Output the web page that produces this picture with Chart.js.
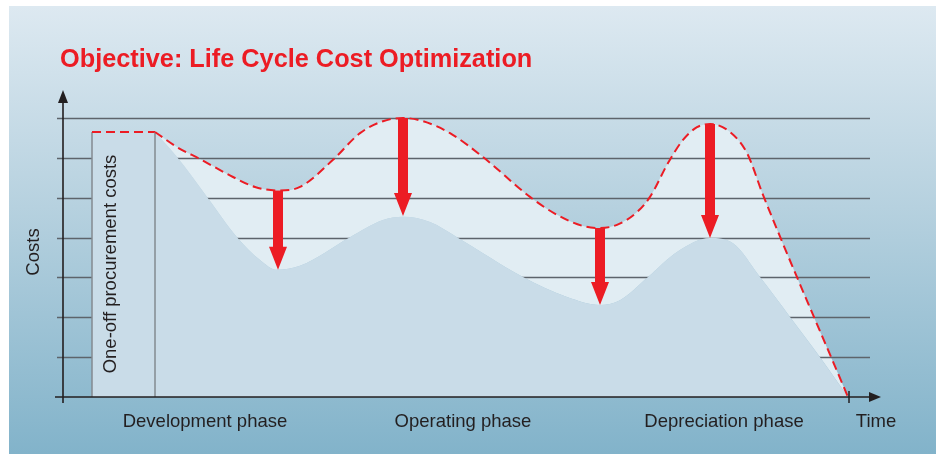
<!DOCTYPE html>
<html>
<head>
<meta charset="utf-8">
<script src="https://cdn.jsdelivr.net/npm/chart.js@4"></script>
<style>
  html, body { margin: 0; padding: 0; background: #ffffff; }
  #wrap { width: 936px; height: 454px; }
</style>
</head>
<body>
<div id="wrap"><canvas id="c" width="936" height="454"></canvas></div>
<script>
// ---- data ----
const chartTitle = 'Objective: Life Cycle Cost Optimization';
const yAxisTitle = 'Costs';
const xAxisTitle = 'Time';
const procurementLabel = 'One-off procurement costs';

// running costs before optimization (dashed red)
const beforeTime = [92, 114, 137, 170, 192, 215, 237, 270, 297, 320, 340, 360, 387, 420, 467, 494, 520, 537, 554, 574, 587, 605, 620, 634, 647, 667, 684, 700, 785];
const beforeCost = [6.65, 6.27, 5.97, 5.52, 5.27, 5.18, 5.27, 5.95, 6.62, 6.92, 7.00, 6.92, 6.62, 6.02, 5.02, 4.57, 4.29, 4.24, 4.32, 4.64, 5.02, 5.87, 6.45, 6.77, 6.85, 6.65, 6.12, 5.07, 0];

// running costs after optimization
const afterTime = [92, 114, 144, 174, 197, 214, 237, 287, 320, 340, 367, 394, 460, 504, 537, 557, 585, 614, 647, 670, 697, 727, 757, 785];
const afterCost = [6.65, 6.02, 5.02, 4.01, 3.44, 3.19, 3.29, 4.01, 4.44, 4.52, 4.39, 4.01, 3.01, 2.51, 2.31, 2.43, 3.01, 3.64, 3.99, 3.86, 3.01, 2.01, 1.00, 0];

// one-off procurement block
const procurementTime = [29, 29, 92, 92];
const procurementCost = [0, 6.65, 6.65, 0];

// reduction arrows
const arrowTime = [215, 340, 537, 647];
const arrowFrom = [5.18, 7.00, 4.24, 6.85];
const arrowTo   = [3.19, 4.54, 2.31, 3.99];

// grid levels and phase labels
const gridLevels = [1, 2, 3, 4, 5, 6, 7];
const phaseLabels = ['Development phase', 'Operating phase', 'Depreciation phase'];
const phaseTime = [142, 400, 661];
const timeEnd = 785;

const pts = (xs, ys) => xs.map((x, i) => ({ x: x, y: ys[i] }));

const RED = '#ec1c24';
const GREY = '#838a90';
const FONT = '"Liberation Sans", Arial, Helvetica, sans-serif';

const decorPlugin = {
  id: 'decor',
  beforeDraw(chart) {
    const ctx = chart.ctx;
    ctx.save();
    ctx.fillStyle = '#ffffff';
    ctx.fillRect(0, 0, chart.width, chart.height);
    const g = ctx.createLinearGradient(0, 6, 0, chart.height);
    g.addColorStop(0, '#dde9f1');
    g.addColorStop(0.45, '#b6d1df');
    g.addColorStop(1, '#82b3ca');
    ctx.fillStyle = g;
    ctx.fillRect(9, 6, chart.width - 9, chart.height - 6);
    ctx.restore();
  },
  afterDatasetDraw(chart, args) {
    if (args.index !== 3) return;
    const ctx = chart.ctx, xs = chart.scales.x, ys = chart.scales.y;
    ctx.save();
    ctx.strokeStyle = '#5d646b';
    ctx.lineWidth = 1.3;
    const x0 = xs.getPixelForValue(0) - 6, x1 = xs.getPixelForValue(807);
    gridLevels.forEach(v => {
      const y = Math.round(ys.getPixelForValue(v)) + 0.5;
      ctx.beginPath(); ctx.moveTo(x0, y); ctx.lineTo(x1, y); ctx.stroke();
    });
    ctx.restore();
  },
  afterDatasetsDraw(chart) {
    const ctx = chart.ctx, xs = chart.scales.x, ys = chart.scales.y;
    ctx.save();
    // arrows
    ctx.fillStyle = RED;
    arrowTime.forEach((t, i) => {
      const x = xs.getPixelForValue(t);
      const yA = ys.getPixelForValue(arrowFrom[i]);
      const yB = ys.getPixelForValue(arrowTo[i]);
      const hl = 23, hw = 9, sw = 5;
      ctx.beginPath();
      ctx.moveTo(x - sw, yA);
      ctx.lineTo(x + sw, yA);
      ctx.lineTo(x + sw, yB - hl);
      ctx.lineTo(x + hw, yB - hl);
      ctx.lineTo(x, yB);
      ctx.lineTo(x - hw, yB - hl);
      ctx.lineTo(x - sw, yB - hl);
      ctx.closePath();
      ctx.fill();
    });
    // axes
    const ax = xs.getPixelForValue(0);
    const ay = ys.getPixelForValue(0);
    ctx.strokeStyle = '#231f20';
    ctx.fillStyle = '#231f20';
    ctx.lineWidth = 1.6;
    ctx.beginPath();
    ctx.moveTo(ax - 8, ay); ctx.lineTo(xs.getPixelForValue(807) + 2, ay);
    ctx.moveTo(ax, ay + 6); ctx.lineTo(ax, ys.getPixelForValue(7) - 18);
    ctx.stroke();
    // y arrow head
    const topY = ys.getPixelForValue(7) - 28;
    ctx.beginPath();
    ctx.moveTo(ax, topY); ctx.lineTo(ax + 5, topY + 13); ctx.lineTo(ax - 5, topY + 13); ctx.closePath(); ctx.fill();
    // x arrow head
    const rx = xs.getPixelForValue(807) + 11;
    ctx.beginPath();
    ctx.moveTo(rx, ay); ctx.lineTo(rx - 12, ay - 5); ctx.lineTo(rx - 12, ay + 5); ctx.closePath(); ctx.fill();
    // end tick
    const ex = xs.getPixelForValue(timeEnd) + 1;
    ctx.lineWidth = 1.5;
    ctx.beginPath(); ctx.moveTo(ex, ay - 6); ctx.lineTo(ex, ay + 6); ctx.stroke();
    ctx.restore();
  },
  afterDraw(chart) {
    const ctx = chart.ctx, xs = chart.scales.x;
    ctx.save();
    // title
    ctx.fillStyle = '#ec1c24';
    ctx.font = 'bold 25.3px ' + FONT;
    ctx.textAlign = 'left';
    ctx.textBaseline = 'alphabetic';
    ctx.fillText(chartTitle, 60, 67);
    // phase labels
    ctx.fillStyle = '#231f20';
    ctx.font = '18.5px ' + FONT;
    ctx.textAlign = 'center';
    phaseLabels.forEach((l, i) => ctx.fillText(l, xs.getPixelForValue(phaseTime[i]), 427));
    ctx.fillText(xAxisTitle, xs.getPixelForValue(813), 427);
    // y title
    ctx.save();
    ctx.translate(39, 252);
    ctx.rotate(-Math.PI / 2);
    ctx.fillText(yAxisTitle, 0, 0);
    ctx.restore();
    // procurement label
    ctx.save();
    const px = (xs.getPixelForValue(procurementTime[0]) + xs.getPixelForValue(procurementTime[2])) / 2;
    ctx.translate(px - 7.5, 264);
    ctx.rotate(-Math.PI / 2);
    ctx.fillText(procurementLabel, 0, 0);
    ctx.restore();
    ctx.restore();
  }
};

new Chart(document.getElementById('c'), {
  type: 'line',
  data: {
    datasets: [
      {
        label: 'Costs before optimization',
        data: pts(beforeTime, beforeCost),
        borderColor: RED,
        borderWidth: 2,
        borderDash: [9, 5],
        fill: false,
        pointRadius: 0,
        cubicInterpolationMode: 'monotone',
        clip: false
      },
      {
        label: 'One-off procurement costs',
        data: pts(procurementTime, procurementCost),
        borderColor: GREY,
        borderWidth: 1.5,
        backgroundColor: '#c9dce8',
        fill: 'origin',
        pointRadius: 0,
        tension: 0,
        clip: false,
        segment: {
          borderColor: c => (c.p0DataIndex === 1 ? RED : GREY),
          borderDash: c => (c.p0DataIndex === 1 ? [9, 5] : []),
          borderWidth: c => (c.p0DataIndex === 1 ? 2 : 1.5)
        }
      },
      {
        label: 'Costs after optimization',
        data: pts(afterTime, afterCost),
        borderWidth: 0,
        borderColor: 'rgba(0,0,0,0)',
        backgroundColor: '#c9dce8',
        fill: 'origin',
        pointRadius: 0,
        cubicInterpolationMode: 'monotone',
        clip: false
      },
      {
        label: 'Savings',
        data: pts(beforeTime, beforeCost),
        borderWidth: 0,
        borderColor: 'rgba(0,0,0,0)',
        backgroundColor: '#e1edf3',
        fill: 2,
        pointRadius: 0,
        cubicInterpolationMode: 'monotone',
        clip: false
      }
    ]
  },
  options: {
    responsive: false,
    animation: false,
    devicePixelRatio: 1,
    events: [],
    layout: { padding: { left: 63, right: 66, top: 118, bottom: 57 } },
    scales: {
      x: { type: 'linear', min: 0, max: 807, display: false },
      y: { type: 'linear', min: 0, max: 7, display: false }
    },
    plugins: {
      legend: { display: false },
      tooltip: { enabled: false },
      title: { display: false }
    }
  },
  plugins: [decorPlugin]
});
</script>
</body>
</html>
